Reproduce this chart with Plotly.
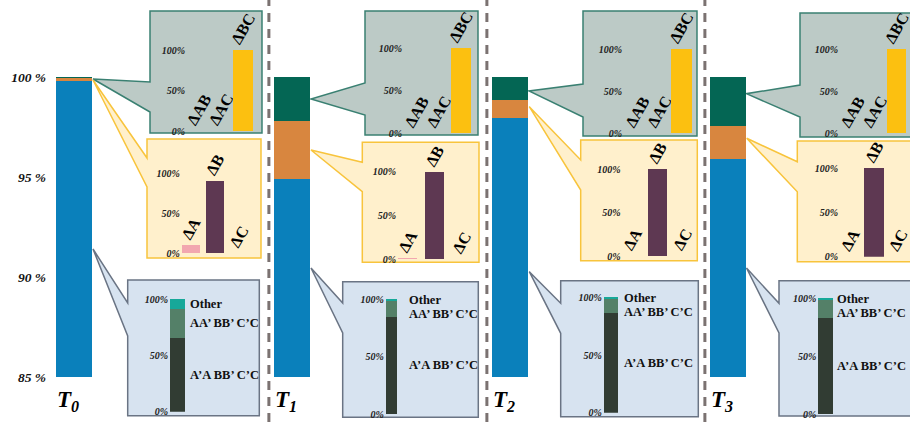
import plotly.graph_objects as go

W, H = 910, 422

# ---------------- data ----------------
periods = ["T<sub>0</sub>", "T<sub>1</sub>", "T<sub>2</sub>", "T<sub>3</sub>"]
share_main = [99.8, 94.9, 97.95, 95.9]      # blue segment
share_single = [0.15, 2.9, 0.9, 1.65]       # orange segment
share_pair = [0.05, 2.2, 1.15, 2.45]        # green segment
y_ticks = [85, 90, 95, 100]
y_tick_text = ["85 %", "90 %", "95 %", "100 %"]

pair_labels = ["ΔAB", "ΔAC", "ΔBC"]
pair_values = [[0, 0, 100], [0, 0, 100], [0, 0, 100], [0, 0, 100]]

single_labels = ["ΔA", "ΔB", "ΔC"]
single_values = [[10, 90, 0], [0.5, 99.5, 0], [0, 100, 0], [0, 100, 0]]

conf_labels = ["A’A BB’ C’C", "AA’ BB’ C’C", "Other"]
conf_values = [[66.0, 25.5, 8.5], [84.9, 14.5, 0.6], [86.2, 13.3, 0.5], [83.0, 16.4, 0.6]]

inset_ticks = [0, 50, 100]
inset_tick_text = ["0%", "50%", "100%"]

# ---------------- styling / geometry (pixels) ----------------
C_MAIN, C_SINGLE, C_PAIR = "#0a80bb", "#d8863f", "#046654"
C_BC = "#fcc010"
C_A, C_B = "#f2a7af", "#5e3852"
C_CONF = ["#313c33", "#548068", "#17a899"]
SERIF = "Liberation Serif"

green_geo = [
    dict(box=(150, 11, 262, 133), tip=(93, 79), join=(82, 112), c0=199, s=22, bw=20, base=131, h=81, lab=183),
    dict(box=(365, 11, 478, 135), tip=(311, 99), join=(83, 115), c0=416.7, s=22, bw=20, base=133.3, h=85, lab=400),
    dict(box=(583, 11, 697, 136), tip=(529, 91), join=(84, 117), c0=637.3, s=22, bw=20.5, base=133.3, h=84.3, lab=620),
    dict(box=(800, 13, 915, 137), tip=(746.5, 93.7), join=(85, 117), c0=852.7, s=22, bw=19, base=133.3, h=84, lab=836),
]
yellow_geo = [
    dict(box=(147, 139, 261, 258), tip=(93, 80), join=(158, 187), c0=191, s=24, bw=18.5, base=253.3, h=80.3, lab=183),
    dict(box=(362.3, 142.3, 479, 262.3), tip=(311, 150), join=(162.3, 191.7), c0=407.7, s=27, bw=19.3, base=259.3, h=87.4, lab=398),
    dict(box=(580.7, 140, 697.3, 260.7), tip=(529.3, 106.7), join=(160, 190), c0=632.5, s=25, bw=19.6, base=256, h=86.7, lab=624),
    dict(box=(797.3, 141, 915, 261.7), tip=(746.7, 138.3), join=(161.7, 191.7), c0=850.2, s=24, bw=20.3, base=256.7, h=88.4, lab=840),
]
blue_geo = [
    dict(box=(127.7, 280, 259.3, 415.7), tip=(93, 249), join=(303, 336), c0=177.5, s=30, bw=15, base=411.7, h=112.4, lab=166, txt=188),
    dict(box=(342.7, 281.7, 478.3, 417.3), tip=(311, 268), join=(303, 333), c0=391.3, s=30, bw=11, base=414, h=114.7, lab=384, txt=406.7),
    dict(box=(560.7, 280.7, 698.3, 416.7), tip=(529.3, 271.7), join=(303.3, 333.3), c0=611, s=30, bw=14.3, base=412.7, h=115.4, lab=601.7, txt=621.7),
    dict(box=(779, 280.7, 915, 416), tip=(746.5, 268), join=(303.3, 333), c0=825.8, s=30, bw=15, base=414, h=115.7, lab=815, txt=835),
]
box_styles = {
    "green": dict(fill="#bccac6", line="#3a8072"),
    "yellow": dict(fill="#fff0cc", line="#f8c43c"),
    "blue": dict(fill="#d7e3f0", line="#6a7484"),
}


def px(x):
    return x / W


def py(y):
    return 1 - y / H


fig = go.Figure()
layout = dict(
    width=W, height=H, margin=dict(l=0, r=0, t=0, b=0, autoexpand=False),
    paper_bgcolor="white", plot_bgcolor="rgba(0,0,0,0)",
    barmode="stack", showlegend=False,
    shapes=[], annotations=[],
)

# ---------------- main stacked bars ----------------
x_idx = list(range(len(periods)))
MAIN_C0, MAIN_S, MAIN_BW = 74, 218, 36
main_left = 50
for vals, col in [(share_main, C_MAIN), (share_single, C_SINGLE), (share_pair, C_PAIR)]:
    fig.add_trace(go.Bar(x=x_idx, y=vals, marker=dict(color=col, line=dict(width=0)),
                         width=MAIN_BW / MAIN_S, xaxis="x", yaxis="y", hoverinfo="skip"))

layout["xaxis"] = dict(
    domain=[px(main_left), 1], range=[(main_left - MAIN_C0) / MAIN_S, (W - MAIN_C0) / MAIN_S],
    tickvals=x_idx, ticktext=periods, showgrid=False, zeroline=False, showline=False, ticks="",
    tickfont=dict(family=SERIF, size=23, color="black", weight="bold", style="italic"),
    ticklabelshift=-6, ticklabelstandoff=6, automargin=False,
)
layout["yaxis"] = dict(
    domain=[py(377), py(77)], range=[85, 100], tickvals=y_ticks, ticktext=y_tick_text,
    showgrid=False, zeroline=False, showline=False, ticks="", automargin=False,
    ticklabelstandoff=3,
    tickfont=dict(family=SERIF, size=13.5, color="#111", weight="bold", style="italic"),
)

# separators between periods
for k in range(1, len(periods)):
    layout["shapes"].append(dict(
        type="line", xref="x", yref="paper", x0=k - 0.106, x1=k - 0.106, y0=0, y1=1,
        line=dict(color="#7b7271", width=3, dash="9px,7px"), layer="below"))


def callout(geo, style):
    x0, y0, x1, y1 = geo["box"]
    tx, ty = geo["tip"]
    j1, j2 = geo["join"]
    pts = [(x0, y0), (x1, y0), (x1, y1), (x0, y1), (x0, j2), (tx, ty), (x0, j1)]
    path = "M " + " L ".join(f"{px(a):.5f},{py(b):.5f}" for a, b in pts) + " Z"
    layout["shapes"].append(dict(
        type="path", xref="paper", yref="paper", path=path, layer="below",
        fillcolor=box_styles[style]["fill"], line=dict(color=box_styles[style]["line"], width=1.5)))


axis_n = [1]
tick_font = dict(family=SERIF, size=10, color="#222", weight="bold", style="italic")


def inset_axes(geo):
    axis_n[0] += 1
    n = axis_n[0]
    x0, y0, x1, y1 = geo["box"]
    left = min(geo["lab"] + 3, geo["c0"] - geo["bw"] / 2 - 1)
    right = min(x1 - 3, W)
    top = y0 + 2
    s = geo["s"]
    layout[f"xaxis{n}"] = dict(
        domain=[px(left), px(right)], anchor=f"y{n}", type="category", automargin=False,
        range=[(left - geo["c0"]) / s, (right - geo["c0"]) / s],
        showticklabels=False, showgrid=False, zeroline=False, showline=False, ticks="")
    layout[f"yaxis{n}"] = dict(
        domain=[py(geo["base"]), py(top)], anchor=f"x{n}", automargin=False,
        range=[0, (geo["base"] - top) / geo["h"] * 100],
        tickvals=inset_ticks, ticktext=inset_tick_text, tickfont=tick_font,
        showgrid=False, zeroline=False, showline=False, ticks="")
    return n, s


delta_font = dict(family=SERIF, size=16, color="black", weight="bold")

for i in range(len(periods)):
    # pair changes (green callout)
    g = green_geo[i]
    callout(g, "green")
    n, s = inset_axes(g)
    fig.add_trace(go.Bar(
        x=pair_labels, y=pair_values[i], xaxis=f"x{n}", yaxis=f"y{n}", width=g["bw"] / s,
        marker=dict(color=C_BC, line=dict(width=0)), text=pair_labels, textposition="outside",
        textangle=-60, textfont=delta_font, constraintext="none", cliponaxis=False, hoverinfo="skip"))

    # single changes (yellow callout)
    g = yellow_geo[i]
    callout(g, "yellow")
    n, s = inset_axes(g)
    fig.add_trace(go.Bar(
        x=single_labels, y=single_values[i], xaxis=f"x{n}", yaxis=f"y{n}", width=g["bw"] / s,
        marker=dict(color=[C_A, C_B, C_B], line=dict(width=0)), text=single_labels,
        textposition="outside", textangle=-60, textfont=delta_font, constraintext="none",
        cliponaxis=False, hoverinfo="skip"))

    # configuration mix (blue callout)
    g = blue_geo[i]
    callout(g, "blue")
    n, s = inset_axes(g)
    cat = [f"mix{i}"]
    for k, lab in enumerate(conf_labels):
        fig.add_trace(go.Bar(
            x=cat, y=[conf_values[i][k]], xaxis=f"x{n}", yaxis=f"y{n}", width=g["bw"] / s,
            marker=dict(color=C_CONF[k], line=dict(width=0)), hoverinfo="skip"))
    # label heights: segment middles, pushed apart from the top down
    mids, cum = [], 0
    for v in conf_values[i]:
        mids.append(cum + v / 2)
        cum += v
    gap = 14 / g["h"] * 100
    pos = mids[:]
    for k in range(len(pos) - 2, -1, -1):
        pos[k] = min(pos[k], pos[k + 1] - gap)
    for k, lab in enumerate(conf_labels):
        layout["annotations"].append(dict(
            x=cat[0], y=pos[k], xref=f"x{n}", yref=f"y{n}", text=lab, showarrow=False,
            xanchor="left", yanchor="middle", xshift=g["txt"] - g["c0"],
            font=dict(family=SERIF, size=12.5, color="#111", weight="bold")))

fig.update_layout(**layout)
fig.write_html("out.html")
